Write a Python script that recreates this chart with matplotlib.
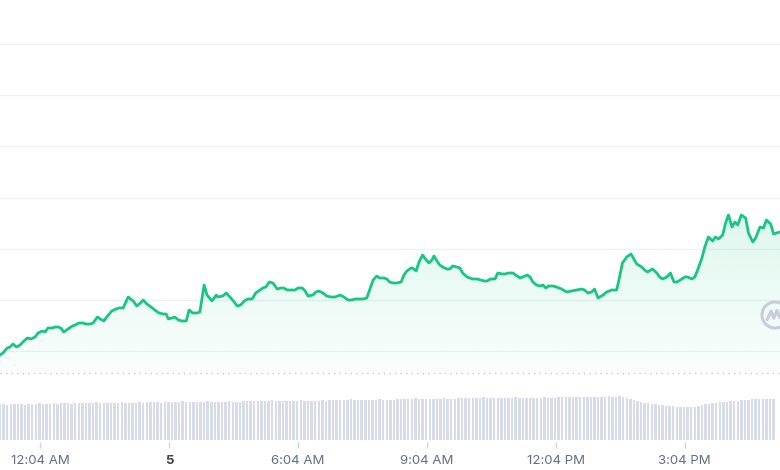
import numpy as np
import matplotlib
matplotlib.use("Agg")
import matplotlib.pyplot as plt
from matplotlib.patches import Circle, PathPatch
from matplotlib.path import Path

plt.rcParams["font.family"] = ["Inter", "DejaVu Sans"]

# price series: minutes after the 12:04 AM tick, price (chart units)
minutes = [
    -56, -52, -46, -42, -38, -33, -28, -24, -18, -13, -7, -3, 3, 7, 11, 17, 21, 25, 29, 33,
    39, 45, 49, 54, 60, 64, 70, 74, 80, 84, 89, 93, 100, 106, 110, 116, 119, 123, 128,
    130, 135, 140, 144, 149, 155, 160, 166, 172, 176, 179, 184, 188, 193, 198, 204, 208,
    213, 219, 223, 229, 233, 240, 246, 248, 255, 260, 265, 271, 275, 280, 285, 290, 296,
    301, 307,
    311, 315, 320, 325, 331, 336, 340, 345, 352, 356, 360, 366, 370, 374, 381, 385, 389,
    395, 400, 406, 412, 419, 424, 430, 435, 440, 445, 451, 456, 460, 465, 470, 474, 480,
    484,
    488, 493, 498, 504, 508, 512, 518, 520, 525, 529, 534, 539, 543, 547, 550, 554, 558,
    562, 568, 572, 576, 582, 586, 590, 596, 600, 604, 610, 615, 620, 624, 629, 635, 639,
    645, 649, 654, 660, 664,
    670, 674, 680, 684, 688, 693, 698, 702, 706, 710, 716, 721, 728, 735, 742, 749, 756,
    760, 765, 770, 774, 779, 786, 791, 798, 805, 809, 813, 819, 825, 829, 833, 840, 844,
    848,
    855, 861, 865, 869, 875, 880, 885, 889, 894, 900, 904, 910, 914, 918, 924, 928, 933,
    939, 943, 947, 953, 957, 961, 966, 970, 974, 979, 985, 989, 995, 999, 1005, 1010,
    1014, 1020, 1024, 1028, 1033,
]
price = [
    115, 117, 122, 123, 126, 123, 125, 128, 132, 131, 133, 137, 139, 138, 142, 142, 143, 143, 142, 138,
    141, 144, 145, 147, 147, 146, 146, 147, 153, 151, 149, 153, 159, 161, 162, 162, 167, 173, 170,
    169, 164, 167, 170, 166, 163, 160, 157, 156, 156, 151, 152, 153, 150, 149, 149, 160,
    157, 157, 158, 185, 175, 169, 175, 173, 174, 177, 173, 168, 164, 165, 169, 171, 171,
    177, 180,
    182, 183, 188, 187, 181, 182, 182, 180, 180, 180, 182, 182, 179, 174, 175, 178, 179,
    177, 174, 173, 173, 175, 173, 170, 170, 171, 171, 171, 172, 180, 190, 194, 192, 192,
    191,
    188, 187, 187, 188, 195, 199, 202, 202, 199, 208, 215, 210, 207, 210, 214, 209, 205,
    203, 201, 201, 204, 203, 202, 197, 193, 192, 191, 191, 190, 189, 189, 191, 191, 197,
    196, 196, 197, 197, 195,
    192, 193, 195, 193, 188, 185, 184, 185, 182, 184, 184, 183, 181, 178, 179, 180, 181,
    180, 177, 178, 181, 172, 175, 178, 180, 180, 193, 207, 213, 216, 211, 206, 203, 200,
    198,
    201, 197, 193, 191, 193, 197, 188, 188, 190, 193, 193, 191, 193, 200, 212, 223, 233,
    229, 233, 231, 235, 247, 255, 243, 248, 245, 255, 252, 237, 228, 232, 243, 242,
    250, 246, 236, 237, 238,
]

# volume bars, one per 5 minutes starting at -56 min
volume = [
    36, 36, 35, 36, 36, 36, 36, 35, 36, 36, 36, 37, 36, 36, 36, 37, 36,
    37, 37, 37, 36, 37, 37, 37, 37, 37, 37, 38, 37, 37, 37, 37, 37, 37, 38, 37, 37, 37, 37, 38, 37,
    38, 38, 38, 38, 37, 38, 38, 38, 38, 38, 39, 38, 38, 38, 38, 38, 38, 39, 38, 38, 38, 38, 38, 39,
    38, 38, 38, 39,
    39, 39, 39, 39, 39, 39, 39, 40, 39, 39, 39, 39, 39, 39, 39, 40, 39, 39, 39, 39, 39, 40, 39,
    40, 40, 40, 40, 40, 40, 41, 40, 40, 40, 40, 40, 40, 40, 41, 40, 40, 40, 40,
    41, 41, 41, 41, 41, 42, 41, 41, 41, 41, 41, 41, 41, 42, 41, 41, 41,
    42, 42, 42, 42, 42, 42, 42, 43, 42, 42, 42, 42, 42, 42, 42, 42, 43, 42, 42, 42, 42, 42, 42, 42,
    43, 42, 42, 42,
    43, 43, 43, 43, 43, 43, 43, 43, 43, 43, 43, 43, 43, 43, 44, 43, 43, 44, 43,
    42, 41, 40, 39, 38, 37, 37, 36, 36, 35, 35, 34, 34, 34, 33, 33, 33, 33, 33, 33,
    34, 35, 36, 36, 37, 37, 38, 38, 38, 39, 39, 39, 40, 40, 40, 41, 41, 41, 41, 41, 41, 41,
]

tick_minutes = [0, 180, 360, 540, 720, 900]
tick_labels = ["12:04 AM", "5", "6:04 AM", "9:04 AM", "12:04 PM", "3:04 PM"]
grid_levels = np.linspace(119, 426, 7)
open_level = 97

GREEN = "#16c784"
GRID = "#eff2f5"
LABEL = "#616e85"

fig = plt.figure(figsize=(7.8, 4.7), dpi=100)
ax = fig.add_axes([0, 28 / 470, 1, 442 / 470])
xlim = (-56, 1033)
ax.set_xlim(*xlim)
ax.set_ylim(28, 470)

for g in grid_levels:
    ax.axhline(g, color=GRID, lw=1, zorder=0)
ax.axhline(open_level, color="#c4c9d4", lw=1, ls=(0, (1, 3)), zorder=1)

# gradient fill under the line
x = np.array(minutes)
y = np.array(price)
poly = ax.fill_between(x, y, open_level, color="none", lw=0)
top, bot = max(price), open_level
grad = np.zeros((100, 1, 4))
grad[:, 0, :3] = matplotlib.colors.to_rgb(GREEN)
grad[:, 0, 3] = np.linspace(0.14, 0.02, 100)
im = ax.imshow(grad, extent=[xlim[0], xlim[1], bot, top], origin="upper",
               aspect="auto", zorder=1, interpolation="bilinear")
path = poly.get_paths()[0]
im.set_clip_path(path, transform=ax.transData)
ax.plot(x, y, color=GREEN, lw=2, solid_joinstyle="round", zorder=3)

ax.set_xticks(tick_minutes)
ax.set_xticklabels(tick_labels, fontsize=9.5, color=LABEL)
lbl = ax.get_xticklabels()[1]
lbl.set_fontweight("bold")
lbl.set_color("#3d4453")
ax.tick_params(axis="x", length=4, width=1, color="#cfd6e4", pad=5)
ax.set_yticks([])
for s in ax.spines.values():
    s.set_visible(False)

# volume strip
vax = fig.add_axes([0, 30 / 470, 1, 60 / 470], sharex=ax)
vx = -56 + 5 * np.arange(len(volume))
vax.bar(vx, volume, width=3.4, color="#d8dcea", lw=0)
vax.set_ylim(0, 60)
vax.set_xlim(*xlim)
vax.axis("off")
vax.patch.set_alpha(0)

# watermark logo at right edge
cx, cy, r = 7.75, 1.55, 0.13
fig.patches.append(Circle((cx, cy), r, transform=fig.dpi_scale_trans, fill=False,
                          ec="#c9ccd9", lw=2.2))
pts = [(-0.6, -0.35), (-0.3, 0.3), (-0.1, -0.25), (0.15, 0.35), (0.35, -0.2), (0.6, 0.0)]
wave = Path([(cx + px * r, cy + py * r) for px, py in pts])
fig.patches.append(PathPatch(wave, transform=fig.dpi_scale_trans, fill=False,
                             ec="#c9ccd9", lw=2.2, capstyle="round", joinstyle="round"))

fig.savefig("out.png", dpi=100)
